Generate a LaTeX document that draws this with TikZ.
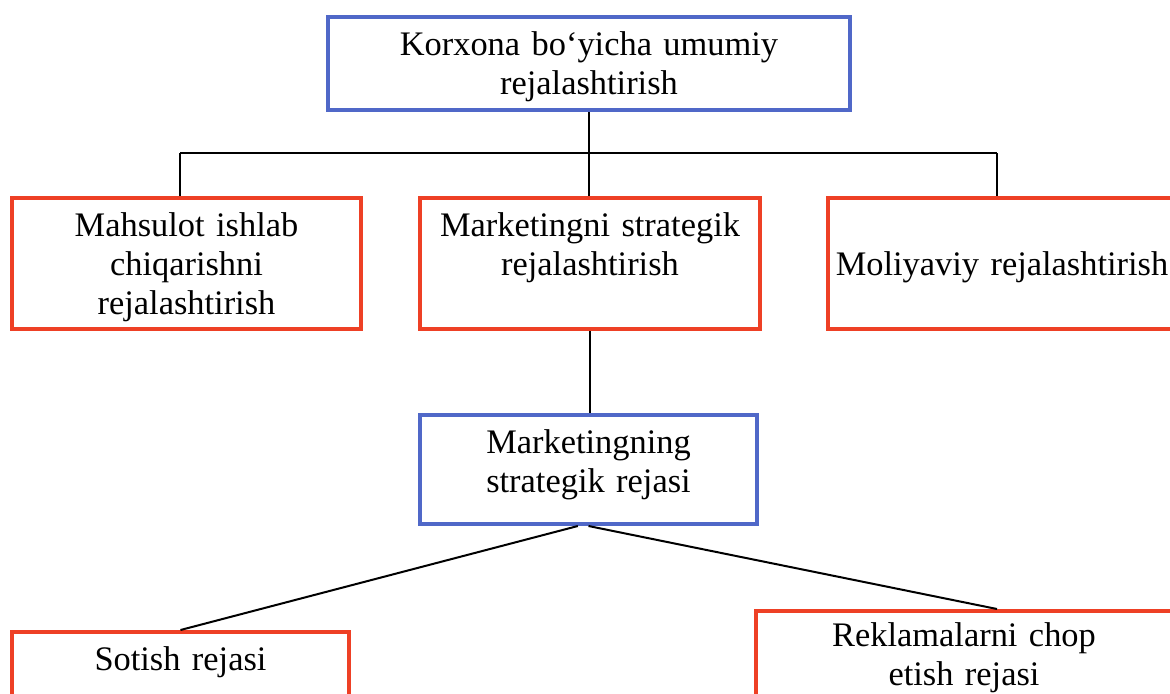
\documentclass[tikz,border=0pt]{standalone}
\usepackage{fontspec}
\setmainfont{Liberation Serif}
\usepackage{tkz-euclide}
\definecolor{boxred}{RGB}{238,64,37}
\definecolor{boxblue}{RGB}{80,104,200}

\begin{document}
\begin{tikzpicture}[x=0.75pt,y=-0.75pt,
	font=\fontsize{25.8}{29.5}\selectfont,
	plan/.style={anchor=north,align=center,inner xsep=0pt,inner ysep=0pt,
		line width=3pt,text height=28.5pt},
	redplan/.style={plan,draw=boxred},
	blueplan/.style={plan,draw=boxblue},
	link/.style={line width=1.5pt,black}]
	\useasboundingbox (0,0) rectangle (1170,693);
	\clip (0,0) rectangle (1170,693);
	\tkzDefPoints{589/15/K,186.5/196/P1,590/196/P2,1002/196/P3}
	\tkzDefPoints{588.5/413/R,180.5/630/S1,964/609/S2}
	\tkzDefPoints{180/153/busL,997/153/busR}
%%%%%%%%%%%%%%%%%%%%%%%%%%%%%%%%%%%%%%%%%%%%%%%%%%%%%%%%%%%%
	\node[blueplan,text width=522*0.75pt,text depth=41.25pt] (korxona) at (K)
		{Korxona bo‘yicha umumiy\\rejalashtirish};
	\node[redplan,text width=349*0.75pt,text depth=69.75pt] (mahsulot) at (P1)
		{Mahsulot ishlab\\chiqarishni\\rejalashtirish};
	\node[redplan,text width=340*0.75pt,text depth=69.75pt] (mstrat) at (P2)
		{Marketingni strategik\\rejalashtirish};
	\node[redplan,text width=348*0.75pt,text height=57.75pt,text depth=40.5pt] (moliya) at (P3)
		{Moliyaviy rejalashtirish};
	\node[blueplan,text width=337*0.75pt,text depth=53.25pt] (mreja) at (R)
		{Marketingning\\strategik rejasi};
	\node[redplan,text width=337*0.75pt,text depth=75pt] (sotish) at (S1)
		{Sotish rejasi};
	\node[redplan,text width=416*0.75pt,text height=26.5pt,text depth=75pt] (reklama) at (S2)
		{Reklamalarni chop\\etish rejasi};
%%%%%%%%%%%%%%%%%%%%%%%%%%%%%%%%%%%%%%%%%%%%%%%%%%%%%%%%%%%%
	\draw[link] (korxona.south) -- (korxona.south |- mstrat.north);
	\draw[link] (busL) -- (busR);
	\draw[link] (busL) -- (busL |- mahsulot.north);
	\draw[link] (busR) -- (busR |- moliya.north);
	\draw[link] (mstrat.south) -- (mstrat.south |- mreja.north);
	\draw[link] ([xshift=-8pt]mreja.south) -- (sotish.north);
	\draw[link] (mreja.south) -- (busR |- reklama.north);
\end{tikzpicture}
\end{document}
